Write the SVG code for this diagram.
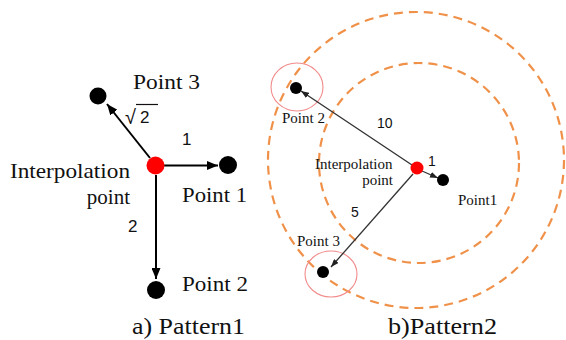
<svg xmlns="http://www.w3.org/2000/svg" width="566" height="340" viewBox="0 0 566 340">
<style>
.serif{font-family:'Liberation Serif','DejaVu Serif',serif;fill:#111}
.sans{font-family:'Liberation Sans','DejaVu Sans',sans-serif;fill:#111}
.dash{fill:none;stroke:#f0914a;stroke-width:2.2;stroke-dasharray:9 6}
.halo{fill:none;stroke:#f28b8b;stroke-width:1.1}
.black{fill:#000}
.red{fill:#f00}
.c1{stroke:#000;stroke-width:2;fill:none}
.c2{stroke:#333;stroke-width:1.3;fill:none}
</style>
<defs>
<marker id="ahL" markerUnits="userSpaceOnUse" markerWidth="11" markerHeight="9" refX="11" refY="4.5" orient="auto">
<path d="M0,0 L11,4.5 L0,9 z" fill="#000"/>
</marker>
<marker id="ahR" markerUnits="userSpaceOnUse" markerWidth="8" markerHeight="6" refX="8" refY="3" orient="auto">
<path d="M0,0 L8,3 L0,6 z" fill="#222"/>
</marker>
</defs>
<rect width="566" height="340" fill="#fff"/>

<g id="ranges">
<circle class="dash" cx="416" cy="160" r="148"/>
<circle class="dash" cx="419" cy="163" r="100"/>
<ellipse class="halo" cx="297" cy="87" rx="26" ry="24"/>
<ellipse class="halo" cx="331" cy="274" rx="26" ry="23"/>
</g>

<g id="connectors">
<line class="c1" x1="164" y1="165.5" x2="218" y2="165.5" marker-end="url(#ahL)"/>
<line class="c1" x1="150" y1="158" x2="107" y2="104" marker-end="url(#ahL)"/>
<line class="c1" x1="156" y1="175" x2="156" y2="279" marker-end="url(#ahL)"/>
<line class="c2" x1="412" y1="165" x2="301" y2="91" marker-end="url(#ahR)"/>
<line class="c2" x1="422" y1="171" x2="438" y2="178" marker-end="url(#ahR)"/>
<line class="c2" x1="413" y1="174" x2="331" y2="267" marker-end="url(#ahR)"/>
<text class="sans" font-family="Liberation Sans, sans-serif" x="182" y="145" font-size="17">1</text>
<text class="sans" font-family="Liberation Sans, sans-serif" x="125" y="124" font-size="20">√</text>
<line x1="136" y1="104.5" x2="158" y2="104.5" stroke="#111" stroke-width="1.2"/>
<text class="sans" font-family="Liberation Sans, sans-serif" x="140" y="123" font-size="17">2</text>
<text class="sans" font-family="Liberation Sans, sans-serif" x="128" y="232" font-size="17">2</text>
<text class="sans" font-family="Liberation Sans, sans-serif" x="377" y="128" font-size="14">10</text>
<text class="sans" font-family="Liberation Sans, sans-serif" x="428" y="166" font-size="14">1</text>
<text class="sans" font-family="Liberation Sans, sans-serif" x="351" y="217" font-size="14">5</text>
</g>

<g id="a-interp">
<circle class="red" cx="155.5" cy="165.5" r="9"/>
<text class="serif" font-family="Liberation Serif, serif" x="10" y="178" font-size="21" textLength="120" lengthAdjust="spacingAndGlyphs">Interpolation</text>
<text class="serif" font-family="Liberation Serif, serif" x="130" y="204" font-size="21" text-anchor="end">point</text>
</g>
<g id="a-point1">
<circle class="black" cx="228" cy="165" r="9"/>
<text class="serif" font-family="Liberation Serif, serif" x="182" y="202" font-size="21" textLength="65" lengthAdjust="spacingAndGlyphs">Point 1</text>
</g>
<g id="a-point2">
<circle class="black" cx="156" cy="290" r="9"/>
<text class="serif" font-family="Liberation Serif, serif" x="182" y="291" font-size="21" textLength="66" lengthAdjust="spacingAndGlyphs">Point 2</text>
</g>
<g id="a-point3">
<circle class="black" cx="98" cy="96" r="8.5"/>
<text class="serif" font-family="Liberation Serif, serif" x="133" y="89" font-size="21" textLength="67" lengthAdjust="spacingAndGlyphs">Point 3</text>
</g>
<g id="a-caption">
<text class="serif" font-family="Liberation Serif, serif" x="132" y="334" font-size="23" textLength="113" lengthAdjust="spacingAndGlyphs">a) Pattern1</text>
</g>

<g id="b-interp">
<circle class="red" cx="417" cy="168" r="6.5"/>
<text class="serif" font-family="Liberation Serif, serif" x="315" y="169" font-size="15">Interpolation</text>
<text class="serif" font-family="Liberation Serif, serif" x="393" y="185" font-size="15" text-anchor="end">point</text>
</g>
<g id="b-point1">
<circle class="black" cx="443" cy="180" r="6"/>
<text class="serif" font-family="Liberation Serif, serif" x="458" y="205" font-size="15">Point1</text>
</g>
<g id="b-point2">
<circle class="black" cx="296" cy="88" r="6"/>
<text class="serif" font-family="Liberation Serif, serif" x="282" y="123" font-size="15">Point 2</text>
</g>
<g id="b-point3">
<circle class="black" cx="323" cy="272" r="6"/>
<text class="serif" font-family="Liberation Serif, serif" x="297" y="246" font-size="15">Point 3</text>
</g>
<g id="b-caption">
<text class="serif" font-family="Liberation Serif, serif" x="388" y="334" font-size="23" textLength="109" lengthAdjust="spacingAndGlyphs">b)Pattern2</text>
</g>
</svg>
